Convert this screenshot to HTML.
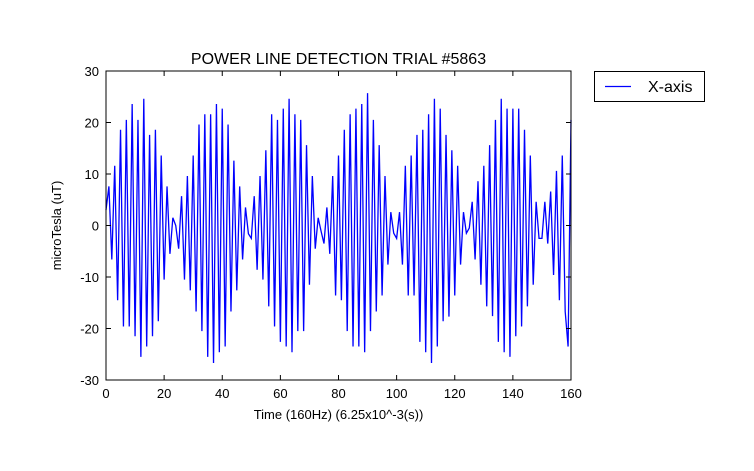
<!DOCTYPE html>
<html><head><meta charset="utf-8"><style>
body{margin:0;background:#fff;}
svg{display:block;font-family:"Liberation Sans","DejaVu Sans",sans-serif;}
</style></head><body>
<svg id="chart" width="754" height="471">
<rect width="754" height="471" fill="#fff"/>
<g id="axes"></g>
</svg>
<script>
const xTicks=[0,20,40,60,80,100,120,140,160];
const yTicks=[-30,-20,-10,0,10,20,30];
const titleText="POWER LINE DETECTION TRIAL #5863";
const seriesName="X-axis";
const values=[3,7.6,-6.6,11.6,-14.5,18.6,-19.6,20.5,-19.6,23.6,-21.5,20.5,-25.5,24.6,-23.5,17.6,-21.5,18.6,-18.6,13.6,
-10.5,7.6,-5.5,1.5,0,-4.5,5.7,-10.5,9.6,-12.6,13.6,-16.7,19.6,-20.5,21.6,-25.5,21.6,-26.7,23.6,-24.6,
22.7,-23.5,19.6,-16.7,12.6,-12.6,7.6,-6.6,3.5,-1.6,-2.5,5.7,-8.6,9.6,-10.5,14.6,-15.7,21.6,-19.6,20.5,
-22.6,22.7,-23.5,24.6,-24.6,21.6,-20.5,20.5,-20.5,15.6,-11.5,9.6,-4.5,1.5,-1.1,-3.5,3.5,-5.5,9.6,-13.6,
13.6,-14.5,18.6,-20.5,21.6,-23.5,22.7,-23.5,23.6,-24.6,25.7,-20.5,20.5,-16.7,15.6,-13.6,9.6,-7.6,2.6,-1.5,
-2.5,2.6,-7.6,11.6,-13.6,13.6,-13.6,17.6,-22.6,18.6,-24.6,21.6,-26.7,24.6,-23.5,22.7,-18.6,17.6,-17.7,14.6,
-13.6,11.6,-7.6,2.6,-1.5,-0.5,4.6,-6.6,8.6,-11.5,11.6,-15.7,15.6,-17.6,20.5,-22.6,24.6,-24.6,22.7,-25.5,
22.7,-21.5,22.7,-19.6,18.6,-15.7,13.6,-11.5,4.6,-2.5,-2.5,4.6,-3.5,6.6,-9.6,10.6,-14.5,13.6,-16.7,-23.5,20.5];
const L=106,T=71,R=571,B=380;
const sx=v=>L+(v-0)/(160-0)*(R-L);
const sy=v=>B-(v+30)/60*(B-T);
const NS="http://www.w3.org/2000/svg";
const svg=document.getElementById('chart');
function mk(tag,attrs,parent){const e=document.createElementNS(NS,tag);for(const k in attrs)e.setAttribute(k,attrs[k]);(parent||svg).appendChild(e);return e;}
// series
const pts=values.map((v,i)=>sx(i).toFixed(2)+','+sy(v).toFixed(2)).join(' ');
const line=mk('polyline',{points:pts,fill:'none',stroke:'#0000ff','stroke-width':1.3,'stroke-linejoin':'miter'});


// frame
const fr=mk('rect',{x:L,y:T,width:R-L,height:B-T,fill:'none',stroke:'#000','stroke-width':1});


xTicks.forEach(t=>{const x=sx(t);
mk('line',{x1:x,x2:x,y1:B,y2:B-5,stroke:'#000'});mk('line',{x1:x,x2:x,y1:T,y2:T+5,stroke:'#000'});
const tx=mk('text',{x:x,y:B+18,'text-anchor':'middle','font-size':13});tx.textContent=t;

});
yTicks.forEach(t=>{const y=sy(t);
mk('line',{x1:L,x2:L+5,y1:y,y2:y,stroke:'#000'});mk('line',{x1:R,x2:R-5,y1:y,y2:y,stroke:'#000'});
const tx=mk('text',{x:L-7,y:y+5,'text-anchor':'end','font-size':13});tx.textContent=t;

});
const ti=mk('text',{x:(L+R)/2,y:64,'text-anchor':'middle','font-size':16});ti.textContent=titleText;


const xl=mk('text',{x:(L+R)/2,y:419,'text-anchor':'middle','font-size':13});xl.textContent="Time (160Hz) (6.25x10^-3(s))";


const yl=mk('text',{x:0,y:0,'text-anchor':'middle','font-size':13,transform:`translate(61,${(T+B)/2}) rotate(-90)`});yl.textContent="microTesla (uT)";


const lg=mk('g',{});


mk('rect',{x:594.5,y:71.5,width:110,height:30,fill:'#fff',stroke:'#000'},lg);
mk('line',{x1:605,x2:631,y1:86.5,y2:86.5,stroke:'#0000ff','stroke-width':1.3},lg);
const lt=mk('text',{x:648,y:92,'font-size':16},lg);lt.textContent=seriesName;


</script>
</body></html>
